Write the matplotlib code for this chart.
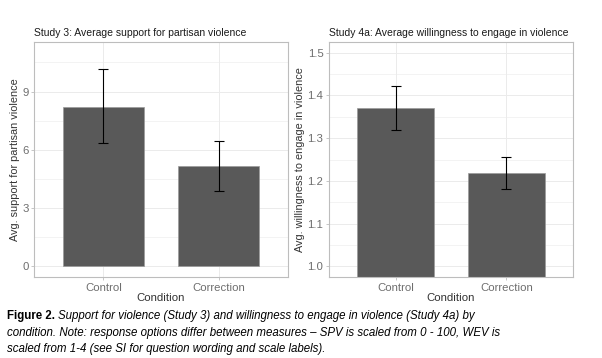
import numpy as np
import matplotlib.pyplot as plt
from matplotlib.ticker import MultipleLocator

plt.rcParams['font.family'] = ['Liberation Sans', 'DejaVu Sans']

conditions = ['Control', 'Correction']

spv_mean = [8.22, 5.17]
spv_low = [6.36, 3.88]
spv_high = [10.15, 6.43]

wev_mean = [1.370, 1.218]
wev_low = [1.319, 1.181]
wev_high = [1.423, 1.255]

titles = ['Study 3: Average support for partisan violence',
          'Study 4a: Average willingness to engage in violence']
ylabels = ['Avg. support for partisan violence',
           'Avg. willingness to engage in violence']

bar_col = '#595959'
grid_col = '#EBEBEB'
text_col = '#6E6E6E'

fig = plt.figure(figsize=(6.02, 3.58), dpi=100)
W, H = 602, 358
ax1 = fig.add_axes([34 / W, 1 - 277 / H, (288 - 34) / W, (277 - 42) / H])
ax2 = fig.add_axes([329 / W, 1 - 277 / H, (573 - 329) / W, (277 - 42) / H])


def panel(ax, means, low, high, ylim, title, ylabel, bottom):
    x = np.arange(1, len(conditions) + 1)
    heights = [m - bottom for m in means]
    ax.bar(x, heights, bottom=bottom, width=0.7, color=bar_col,
           edgecolor='#9A9A9A', linewidth=0.5, zorder=2)
    yerr = [np.array(means) - np.array(low), np.array(high) - np.array(means)]
    ax.errorbar(x, means, yerr=yerr, fmt='none', ecolor='black',
                elinewidth=0.8, capsize=3.8, capthick=0.8, zorder=3)
    ax.set_xlim(0.4, 2.6)
    ax.set_ylim(*ylim)
    ax.set_xticks(x)
    ax.set_xticklabels(conditions)
    ax.grid(True, which='major', color=grid_col, linewidth=0.7, zorder=0)
    ax.grid(True, which='minor', axis='y', color=grid_col, linewidth=0.4, zorder=0)
    ax.set_axisbelow(True)
    for s in ax.spines.values():
        s.set_color('#BDBDBD')
        s.set_linewidth(0.8)
    ax.tick_params(which='major', length=2.5, width=0.6, color='#BDBDBD',
                   labelsize=8.2, labelcolor=text_col, pad=1.5)
    ax.tick_params(which='minor', length=0)
    ax.set_title(title, fontsize=7.5, loc='left', pad=4, color='#1A1A1A')
    ax.set_ylabel(ylabel, fontsize=7.8, color='#333333', labelpad=1.5)
    ax.set_xlabel('Condition', fontsize=8.2, color='#333333', labelpad=0)


panel(ax1, spv_mean, spv_low, spv_high, (-0.55, 11.55), titles[0], ylabels[0], 0)
ax1.yaxis.set_major_locator(plt.FixedLocator([0, 3, 6, 9]))
ax1.yaxis.set_minor_locator(plt.FixedLocator([1.5, 4.5, 7.5, 10.5]))
panel(ax2, wev_mean, wev_low, wev_high, (0.975, 1.525), titles[1], ylabels[1], 0.9)
ax2.yaxis.set_major_locator(MultipleLocator(0.1))
ax2.yaxis.set_minor_locator(MultipleLocator(0.05))
ax2.yaxis.set_major_formatter(plt.FormatStrFormatter('%.1f'))

# caption
fig.canvas.draw()
r = fig.canvas.get_renderer()
cap_size = 8.3
t = fig.text(7 / W, 1 - 316 / H, 'Figure 2.', fontsize=cap_size, weight='bold',
             va='center', ha='left')
bb = t.get_window_extent(renderer=r)
fig.text(bb.x1 / W + 3 / W, 1 - 316 / H,
         'Support for violence (Study 3) and willingness to engage in violence (Study 4a) by',
         fontsize=cap_size, style='italic', va='center', ha='left')
fig.text(7 / W, 1 - 333 / H,
         'condition. Note: response options differ between measures \u2013 SPV is scaled from 0 - 100, WEV is',
         fontsize=cap_size, style='italic', va='center', ha='left')
fig.text(7 / W, 1 - 349 / H,
         'scaled from 1-4 (see SI for question wording and scale labels).',
         fontsize=cap_size, style='italic', va='center', ha='left')

fig.savefig('out.png', dpi=100)
